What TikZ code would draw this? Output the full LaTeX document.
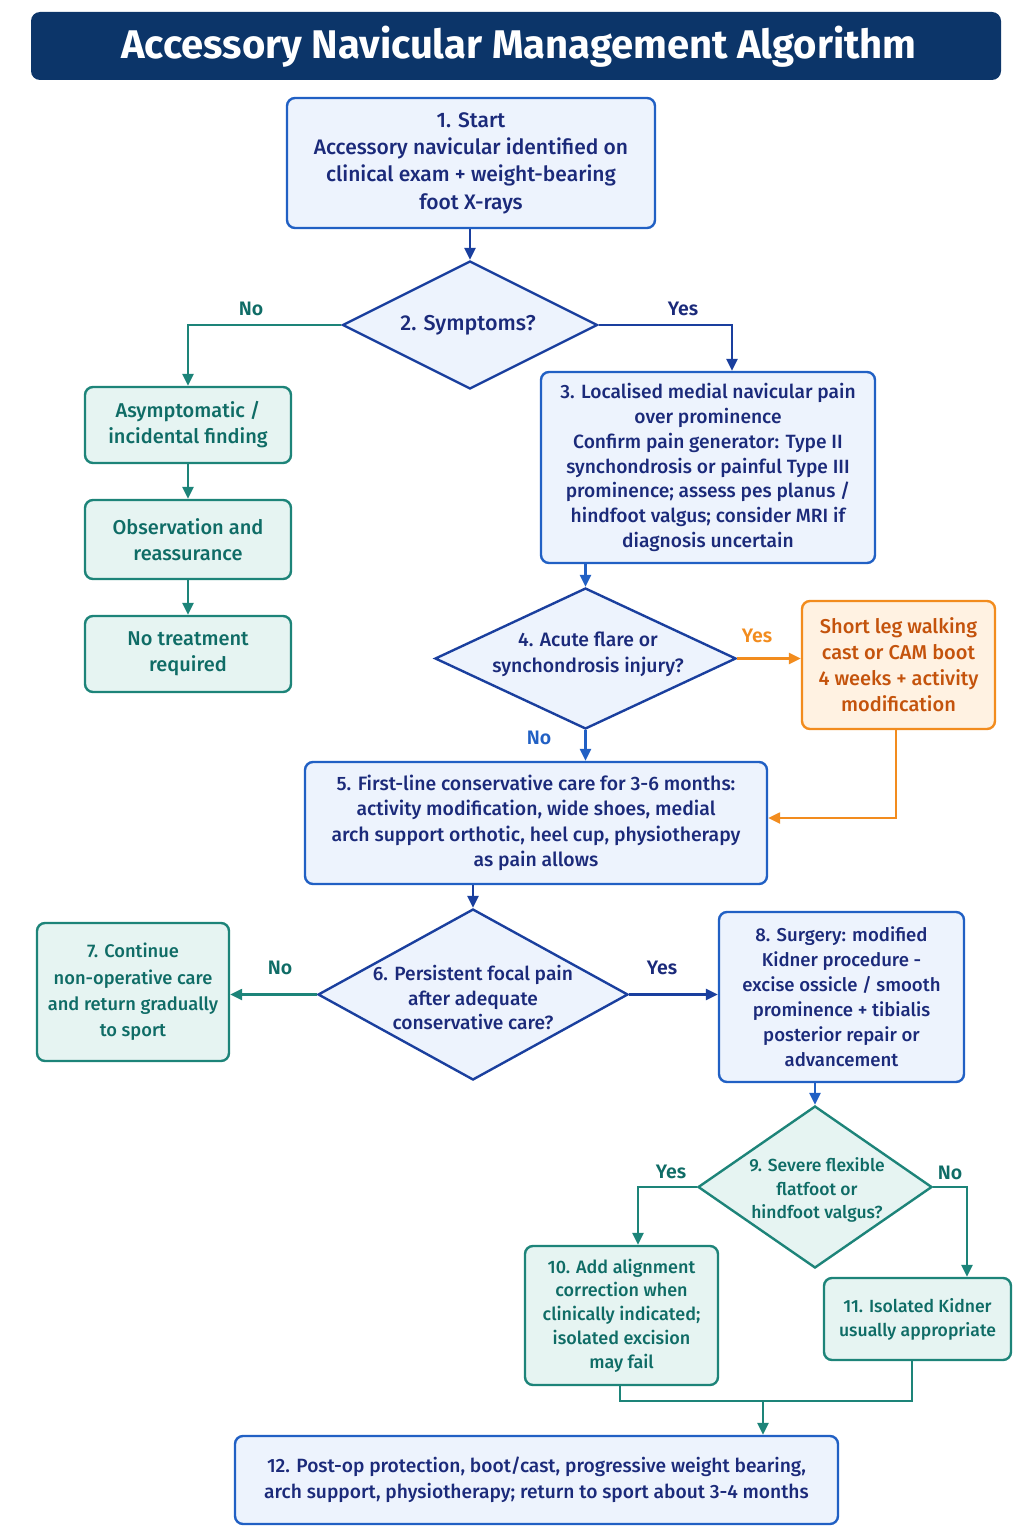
\documentclass[tikz,border=0pt]{standalone}
\usepackage{fontspec}
\setmainfont{Fira Sans}[UprightFont={* Medium},BoldFont={* SemiBold}]
\newfontfamily\titlefont{Fira Sans}[UprightFont={* Bold}]
\usetikzlibrary{shapes.geometric,arrows.meta,calc}
\definecolor{navy}{HTML}{0C3569}
\definecolor{bluetext}{HTML}{1B2A7A}
\definecolor{blueborder}{HTML}{2160C4}
\definecolor{bluefill}{HTML}{EDF3FD}
\definecolor{bluearrow}{HTML}{1A3F9E}
\definecolor{tealborder}{HTML}{1D8479}
\definecolor{tealtext}{HTML}{0F6C66}
\definecolor{tealfill}{HTML}{E6F4F2}
\definecolor{orborder}{HTML}{F28C1E}
\definecolor{ortext}{HTML}{C4530C}
\definecolor{orfill}{HTML}{FFF2E2}
\tikzset{
  fs/.style 2 args={font=\fontsize{#1}{#2}\selectfont},
  box/.style={rectangle,rounded corners=8pt,line width=2.4pt,align=center,inner sep=0pt,fs={19}{26}},
  bluebox/.style={box,draw=blueborder,fill=bluefill,text=bluetext},
  tealbox/.style={box,draw=tealborder,fill=tealfill,text=tealtext},
  orbox/.style={box,draw=orborder,fill=orfill,text=ortext},
  dia/.style={diamond,line width=2.4pt,inner sep=0pt},
  bluedia/.style={dia,draw=bluearrow,fill=bluefill},
  tealdia/.style={dia,draw=tealborder,fill=tealfill},
  dtxt/.style={align=center,inner sep=0pt,fs={19}{25.5}},
  conn/.style={line width=2.4pt,-{Triangle[length=12pt,width=11pt]}},
  bconn/.style={conn,draw=bluearrow},
  b2conn/.style={conn,draw=blueborder},
  tconn/.style={conn,draw=tealborder},
  oconn/.style={conn,draw=orborder},
  lab/.style={font=\bfseries\fontsize{19.5}{22}\selectfont},
}
\begin{document}
\begin{tikzpicture}[x=1pt,y=-1pt]
\useasboundingbox (0,0) rectangle (1024,1536);
% title
\node[rectangle,rounded corners=9pt,fill=navy,minimum width=970pt,minimum height=68pt,inner sep=0pt] (title) at (516,46) {};
\node[text=white,inner sep=0pt,font=\titlefont\fontsize{40}{44}\selectfont] (titletext) at (519,47) {Accessory Navicular Management Algorithm};
% nodes
\node[bluebox,minimum width=368pt,minimum height=130pt,fs={21}{27.3}] (b1) at (471,163)
  {1. Start\\Accessory navicular identified on\\clinical exam + weight-bearing\\foot X-rays};
\node[bluedia,minimum width=255pt,minimum height=128pt] (d2) at (470,325) {};
\node[dtxt,text=bluetext,fs={21.5}{26}] (d2t) at (468,325) {2. Symptoms?};
\node[tealbox,minimum width=206pt,minimum height=76pt,fs={20}{26}] (asym) at (188,425) {Asymptomatic /\\incidental finding};
\node[tealbox,minimum width=206pt,minimum height=79pt,fs={20}{26}] (obs) at (188,539.5) {Observation and\\reassurance};
\node[tealbox,minimum width=206pt,minimum height=76pt,fs={20}{26}] (notr) at (188,654) {No treatment\\required};
\node[bluebox,minimum width=334pt,minimum height=191pt,fs={19.2}{24.8}] (b3) at (708,467.5)
  {3. Localised medial navicular pain\\over prominence\\Confirm pain generator: Type II\\synchondrosis or painful Type III\\prominence; assess pes planus /\\hindfoot valgus; consider MRI if\\diagnosis uncertain};
\node[bluedia,minimum width=301pt,minimum height=141pt] (d4) at (585.5,658.5) {};
\node[dtxt,text=bluetext,fs={19.4}{26}] (d4t) at (588,654) {4. Acute flare or\\synchondrosis injury?};
\node[orbox,minimum width=193pt,minimum height=128pt,fs={20}{26}] (cast) at (898.5,665) {Short leg walking\\cast or CAM boot\\4 weeks + activity\\modification};
\node[bluebox,minimum width=462pt,minimum height=122pt,fs={19.4}{25.5}] (b5) at (536,823)
  {5. First-line conservative care for 3-6 months:\\activity modification, wide shoes, medial\\arch support orthotic, heel cup, physiotherapy\\as pain allows};
\node[bluedia,minimum width=310pt,minimum height=171pt] (d6) at (473,994.5) {};
\node[dtxt,text=bluetext,fs={19.2}{24.5}] (d6t) at (473,997.5) {6. Persistent focal pain\\after adequate\\conservative care?};
\node[tealbox,minimum width=192pt,minimum height=138pt,fs={18.3}{26.3}] (b7) at (133,992) {7. Continue\\non-operative care\\and return gradually\\to sport};
\node[bluebox,minimum width=245pt,minimum height=170pt,fs={18.6}{25}] (b8) at (841.5,997)
  {8. Surgery: modified\\Kidner procedure -\\excise ossicle / smooth\\prominence + tibialis\\posterior repair or\\advancement};
\node[tealdia,minimum width=234pt,minimum height=162pt] (d9) at (815,1187) {};
\node[dtxt,text=tealtext,fs={17.5}{23.5}] (d9t) at (817,1190) {9. Severe flexible\\flatfoot or\\hindfoot valgus?};
\node[tealbox,minimum width=193pt,minimum height=139pt,fs={18}{23.8}] (b10) at (621.5,1315.5)
  {10. Add alignment\\correction when\\clinically indicated;\\isolated excision\\may fail};
\node[tealbox,minimum width=187pt,minimum height=82pt,fs={17.6}{24}] (b11) at (917.5,1319) {11. Isolated Kidner\\usually appropriate};
\node[bluebox,minimum width=603pt,minimum height=88pt,fs={19.2}{25.5}] (b12) at (536.5,1480)
  {12. Post-op protection, boot/cast, progressive weight bearing,\\arch support, physiotherapy; return to sport about 3-4 months};
% helper coordinates
\coordinate (y3) at (732,0);
\coordinate (c5r) at (896,818);
\coordinate (c10) at (638,0);
\coordinate (c11) at (967,0);
\coordinate (m10) at (620,1401);
\coordinate (m11) at (912,1401);
\coordinate (m12) at (763,1401);
% connectors
\draw[bconn] (b1.south -| d2.north) -- (d2.north);
\draw[tconn] (d2.west) -| (asym.north);
\draw[bconn] (d2.east) -| (y3 |- b3.north);
\draw[tconn] (asym.south) -- (obs.north);
\draw[tconn] (obs.south) -- (notr.north);
\draw[b2conn] (b3.south -| d4.north) -- (d4.north);
\draw[oconn] (d4.east) -- (d4.east -| cast.west);
\draw[oconn] (cast.south -| c5r) -- (c5r) -- (c5r -| b5.east);
\draw[b2conn] (d4.south) -- (d4.south |- b5.north);
\draw[bconn] (b5.south -| d6.north) -- (d6.north);
\draw[tconn] (d6.west) -- (d6.west -| b7.east);
\draw[bconn] (d6.east) -- (d6.east -| b8.west);
\draw[b2conn] (b8.south -| d9.north) -- (d9.north);
\draw[tconn] (d9.west) -| (c10 |- b10.north);
\draw[tconn] (d9.east) -| (c11 |- b11.north);
\draw[tealborder,line width=2.4pt] (b10.south -| m10) -- (m10) -- (m11) -- (b11.south -| m11);
\draw[tconn] (m12) -- (m12 |- b12.north);
% labels
\node[lab,text=tealtext] (lno2) at (251,309) {No};
\node[lab,text=bluetext] (lyes2) at (683,309) {Yes};
\node[lab,text=orborder] (lyes4) at (757,636) {Yes};
\node[lab,text=blueborder] (lno4) at (539,738) {No};
\node[lab,text=tealtext] (lno6) at (280,968) {No};
\node[lab,text=bluetext] (lyes6) at (662,968) {Yes};
\node[lab,text=tealtext] (lyes9) at (671,1172) {Yes};
\node[lab,text=tealtext] (lno9) at (950,1173) {No};
\end{tikzpicture}
\end{document}
